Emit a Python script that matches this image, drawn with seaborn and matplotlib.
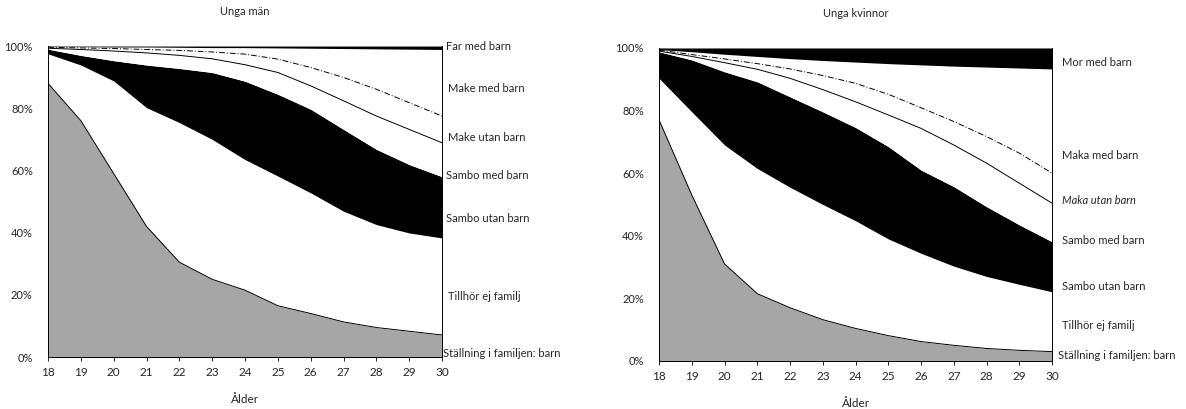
import matplotlib
matplotlib.use("Agg")
import matplotlib.pyplot as plt
import numpy as np
import pandas as pd
import seaborn as sns

# ages on the x axis
ages = list(range(18, 31))

# share (%) of young men in each family position, bottom to top of the stack
men_barn = [88, 76, 59, 42, 30.5, 25, 21.5, 16.5, 14, 11.3, 9.5, 8.3, 7.1]
men_ej_familj = [9.5, 17.9, 29.8, 38.2, 44.9, 45, 42, 41.7, 38.8, 35.6, 33.1, 31.6, 31.2]
men_sambo_utan = [1.5, 3.1, 6.5, 13.7, 17.4, 21.5, 25.2, 26.3, 26.9, 26.3, 24.2, 22, 19.7]
men_sambo_med = [0.3, 1.9, 3.1, 3.9, 4.2, 4.4, 5.3, 7.0, 7.5, 9.2, 10.7, 11.3, 10.9]
men_make_utan = [0.3, 0.5, 0.8, 1.1, 1.6, 2.2, 3.4, 4.3, 5.9, 7.5, 8.6, 8.6, 8.6]
men_make_med = [0.2, 0.4, 0.5, 0.8, 1.0, 1.4, 2.1, 3.6, 6.2, 9.3, 13.0, 17.2, 21.4]
men_far_med = [0.2, 0.2, 0.3, 0.3, 0.4, 0.5, 0.5, 0.6, 0.7, 0.8, 0.9, 1.0, 1.1]

# share (%) of young women
women_barn = [77, 53, 31, 21.5, 17, 13.2, 10.4, 8.1, 6.2, 5, 4, 3.4, 3]
women_ej_familj = [13.3, 26.6, 38, 40, 38.5, 36.8, 34.4, 30.9, 28.2, 25.3, 23, 21.1, 19.1]
women_sambo_utan = [8.5, 16.6, 23.4, 27.7, 28.9, 29.6, 29.8, 29.5, 26.6, 25.4, 22.3, 19, 16]
women_sambo_med = [0.2, 1.1, 2.9, 4.0, 5.9, 7.1, 8.2, 10.1, 13.3, 13.3, 13.9, 13.3, 12.3]
women_maka_utan = [0.3, 0.6, 1.2, 1.8, 3.0, 4.5, 5.9, 6.6, 6.6, 7.5, 8.5, 9.6, 9.6]
women_maka_med = [0.2, 0.9, 1.5, 2.3, 3.3, 4.8, 6.8, 9.8, 13.7, 17.7, 22.2, 27.2, 33.3]
women_mor_med = [0.5, 1.2, 2.0, 2.7, 3.4, 4.0, 4.5, 5.0, 5.4, 5.8, 6.1, 6.4, 6.7]

men_labels = ["Ställning i familjen: barn", "Tillhör ej familj", "Sambo utan barn",
              "Sambo med barn", "Make utan barn", "Make med barn", "Far med barn"]
women_labels = ["Ställning i familjen: barn", "Tillhör ej familj", "Sambo utan barn",
                "Sambo med barn", "Maka utan barn", "Maka med barn", "Mor med barn"]

sns.set_theme(style="white")
plt.rcParams["font.family"] = ["Lato", "DejaVu Sans"]

GRAY = "#a6a6a6"
band_colors = [GRAY, "white", "black", "white", "white", "white", "black"]


def draw_panel(ax, shares, labels, title, label_y, label_dx, italic_idx=None):
    df = pd.DataFrame(np.array(shares).T, index=ages, columns=labels)
    ax.stackplot(df.index, *[df[c] for c in labels], colors=band_colors, linewidth=0)
    cum = df.cumsum(axis=1)
    lines = pd.DataFrame({
        "Ålder": ages * 3,
        "y": list(cum[labels[0]]) + list(cum[labels[3]]) + list(cum[labels[4]]),
        "kind": ["barn"] * 13 + ["solid"] * 13 + ["dashdot"] * 13,
    })
    sns.lineplot(data=lines, x="Ålder", y="y", units="kind", estimator=None,
                 style="kind", dashes={"barn": "", "solid": "", "dashdot": (6, 2, 1, 2)},
                 color="black", linewidth=0.7, ax=ax, legend=False)

    ax.set_xlim(18, 30)
    ax.set_ylim(0, 100)
    ax.set_xticks(ages)
    ax.set_yticks(range(0, 101, 20))
    ax.set_yticklabels([f"{v}%" for v in range(0, 101, 20)])
    ax.tick_params(axis="x", bottom=True, length=3, width=0.7, pad=4, labelsize=8.5)
    ax.tick_params(axis="y", left=False, pad=5, labelsize=8)
    ax.set_xlabel("Ålder", fontsize=8.5, labelpad=12)
    ax.set_ylabel("")
    ax.set_title(title, fontsize=8, pad=22)
    for side in ["left", "right", "bottom"]:
        ax.spines[side].set_linewidth(0.7)
        ax.spines[side].set_color("black")
    ax.spines["top"].set_visible(False)

    for i, (lab, y) in enumerate(zip(labels, label_y)):
        style = "italic" if i == italic_idx else "normal"
        ax.annotate(lab, xy=(1.0, y), xycoords=("axes fraction", "data"),
                    xytext=(label_dx[i], 0), textcoords="offset points",
                    ha="left", va="center", fontsize=8, style=style)


fig = plt.figure(figsize=(11.86, 4.09), dpi=100)
ax_m = fig.add_axes([0.0405, 0.127, 0.3322, 0.7604])
ax_w = fig.add_axes([0.5557, 0.1174, 0.3314, 0.7653])

draw_panel(ax_m,
           [men_barn, men_ej_familj, men_sambo_utan, men_sambo_med,
            men_make_utan, men_make_med, men_far_med],
           men_labels, "Unga män",
           label_y=[1, 19.6, 44.7, 58.5, 70.7, 86.2, 99.7],
           label_dx=[1, 4, 3, 3, 4, 4, 3])
draw_panel(ax_w,
           [women_barn, women_ej_familj, women_sambo_utan, women_sambo_med,
            women_maka_utan, women_maka_med, women_mor_med],
           women_labels, "Unga kvinnor",
           label_y=[1.9, 11.3, 23.7, 38.4, 51.2, 65.6, 95.4],
           label_dx=[4, 7, 7, 7, 7, 7, 7], italic_idx=4)

fig.savefig("out.png", dpi=100)
